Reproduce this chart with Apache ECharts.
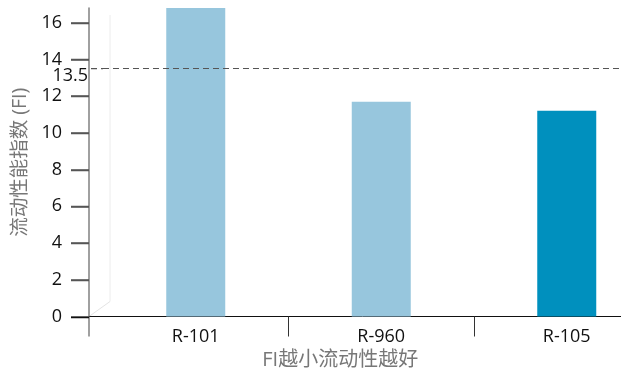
<!DOCTYPE html>
<html>
<head>
<meta charset="utf-8">
<script src="https://cdn.jsdelivr.net/npm/echarts@6/dist/echarts.min.js"></script>
<style>
  html, body { margin: 0; padding: 0; background: #fff; }
  #chart { width: 621px; height: 373px; }
</style>
</head>
<body>
<div id="chart"></div>
<script>
// Resin grades and their flowability index values
const categories = ['R-101', 'R-960', 'R-105'];
const fiValues = [16.8, 11.7, 11.2];
const barColors = ['#97c6dd', '#97c6dd', '#0090be'];
const yTicks = [0, 2, 4, 6, 8, 10, 12, 14, 16];
const referenceLevel = 13.5;

const FONT = '"Open Sans", "Noto Sans", "Noto Sans CJK SC", sans-serif';
// plot box; the value axis sits a little left of the first category band
const GRID = { left: 103, top: 8, width: 556.5, height: 308.5 };
const Y_AXIS_SHIFT = 14;
const TICK_LEN = 18;
const DASH = [6, 4];

const chart = echarts.init(document.getElementById('chart'), null, { renderer: 'canvas' });

chart.setOption({
  animation: false,
  backgroundColor: '#ffffff',
  grid: Object.assign({ outerBoundsMode: 'none', containLabel: false }, GRID),
  xAxis: {
    type: 'category',
    data: categories,
    axisLine: { lineStyle: { color: '#111', width: 1 } },
    axisTick: {
      show: true, length: 20,
      interval: idx => idx !== 0,
      lineStyle: { color: '#333', width: 1 }
    },
    axisLabel: { color: '#111', fontSize: 18, fontFamily: FONT, margin: 11 },
    name: 'FI越小流动性越好',
    nameLocation: 'middle',
    nameGap: 33,
    nameTextStyle: {
      color: '#777', fontSize: 20, fontFamily: FONT,
      padding: [0, 82, 0, 0]
    }
  },
  yAxis: {
    type: 'value',
    min: 0,
    max: 16.8,
    interval: 2,
    offset: Y_AXIS_SHIFT,
    axisLine: { show: true, lineStyle: { color: '#808080', width: 1.5 } },
    axisTick: { show: true, length: TICK_LEN, lineStyle: { color: '#555', width: 1.5 } },
    axisLabel: {
      color: '#111', fontSize: 18, fontFamily: FONT, margin: 27,
      showMaxLabel: false,
      formatter: v => (yTicks.indexOf(v) >= 0 ? String(v) : '')
    },
    splitLine: { show: false },
    name: '流动性能指数 (FI)',
    nameLocation: 'middle',
    nameGap: 46,
    nameTextStyle: { color: '#777', fontSize: 19.5, fontFamily: FONT }
  },
  series: [{
    type: 'bar',
    data: fiValues.map((v, i) => ({ value: v, itemStyle: { color: barColors[i] } })),
    barWidth: 59,
    markLine: {
      symbol: 'none',
      silent: true,
      data: [{ yAxis: referenceLevel }],
      lineStyle: { color: '#555', type: DASH, width: 1.2 },
      label: {
        show: true,
        position: 'start',
        formatter: String(referenceLevel),
        color: '#111',
        fontSize: 18,
        fontFamily: FONT,
        distance: 1 + Y_AXIS_SHIFT,
        offset: [0, 7]
      }
    }
  }]
});

// Value-axis tick marks, axis joins, reference-line lead-in and faint back-wall edges
const axisX = GRID.left - Y_AXIS_SHIFT;
const baseY = GRID.top + GRID.height;
const refY = chart.convertToPixel({ yAxisIndex: 0 }, referenceLevel);
const decor = [];
yTicks.forEach(v => {
  const py = Math.round(chart.convertToPixel({ yAxisIndex: 0 }, v)) + 0.5;
  decor.push({
    type: 'line', silent: true, zlevel: 1, z: 100,
    shape: { x1: axisX - TICK_LEN, y1: py, x2: axisX, y2: py },
    style: { stroke: v === 0 ? '#111' : '#555', lineWidth: 1.5 }
  });
});
decor.push(
  { type: 'line', silent: true, z: 5,
    shape: { x1: axisX, y1: baseY, x2: GRID.left, y2: baseY },
    style: { stroke: '#111', lineWidth: 1 } },
  { type: 'line', silent: true, z: 5,
    shape: { x1: axisX, y1: baseY, x2: axisX, y2: baseY + 20 },
    style: { stroke: '#808080', lineWidth: 1.5 } },
  { type: 'line', silent: true, z: 5,
    shape: { x1: axisX + 2, y1: refY, x2: GRID.left, y2: refY },
    style: { stroke: '#555', lineWidth: 1.2, lineDash: DASH } },
  { type: 'line', silent: true, z: 0,
    shape: { x1: axisX + 21, y1: GRID.top + 7, x2: axisX + 21, y2: baseY - 15 },
    style: { stroke: '#ececec', lineWidth: 1 } },
  { type: 'line', silent: true, z: 0,
    shape: { x1: axisX, y1: baseY, x2: axisX + 21, y2: baseY - 15 },
    style: { stroke: '#e4e4e4', lineWidth: 1 } }
);
chart.setOption({ graphic: decor });
</script>
</body>
</html>
